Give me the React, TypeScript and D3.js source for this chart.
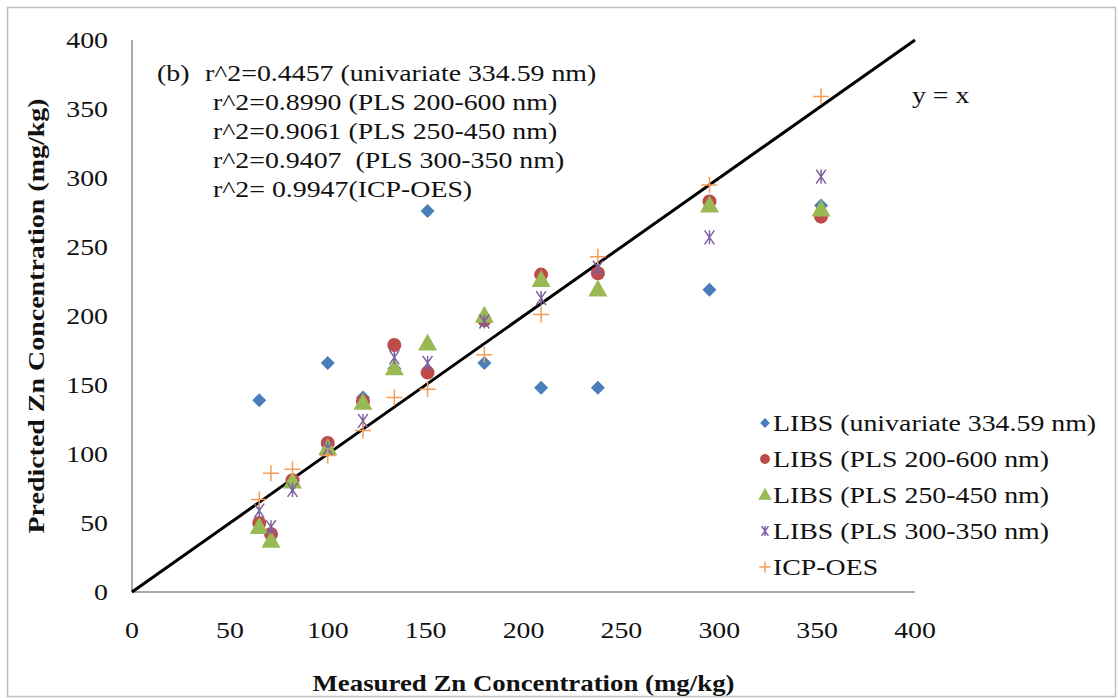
import React from "react";
import * as d3 from "d3";

// measured Zn concentration (mg/kg)
const measured = [65, 71, 82, 100, 118, 134, 151, 180, 209, 238, 295, 352];
// predicted values per method
const univariate = [139, 42, 78, 166, 141, 162, 276, 166, 148, 148, 219, 280];
const pls200600 = [50, 42, 81, 108, 138, 179, 159, 197, 230, 231, 283, 272];
const pls250450 = [47, 37, 80, 104, 137, 162, 180, 200, 226, 219, 280, 277];
const pls300350 = [59, 47, 74, 104, 124, 170, 166, 196, 213, 235, 257, 301];
const icpOes = [67, 86, 89, 99, 117, 141, 147, 172, 201, 243, 295, 359];

const seriesNames = [
  "LIBS (univariate 334.59 nm)",
  "LIBS (PLS 200-600 nm)",
  "LIBS (PLS 250-450 nm)",
  "LIBS (PLS 300-350 nm)",
  "ICP-OES",
];
const annotations = [
  "r^2=0.4457 (univariate 334.59 nm)",
  "r^2=0.8990 (PLS 200-600 nm)",
  "r^2=0.9061 (PLS 250-450 nm)",
  "r^2=0.9407  (PLS 300-350 nm)",
  "r^2= 0.9947(ICP-OES)",
];
const ticks = [0, 50, 100, 150, 200, 250, 300, 350, 400];

const colors = ["#4a7ebb", "#be4b48", "#98b954", "#7d60a0", "#f59d56"];
const shapes = ["diamond", "circle", "triangle", "star", "plus"];

const serif = "'Liberation Serif', 'Times New Roman', serif";

// the source chart's text is stretched horizontally
const T = ({ x, y, anchor = "start", sx = 1.16, size = 24, children, ...rest }) => (
  <g transform={`translate(${x},${y}) scale(${sx},1)`}>
    <text x={0} y={0} dy="0.35em" textAnchor={anchor} fontSize={size} fill="#111" style={{ whiteSpace: "pre" }} {...rest}>
      {children}
    </text>
  </g>
);

const Marker = ({ shape, color, x, y, s = 1 }) => {
  if (shape === "diamond") {
    const r = 7 * s;
    return <path d={`M${x},${y - r}L${x + r},${y}L${x},${y + r}L${x - r},${y}Z`} fill={color} />;
  }
  if (shape === "circle") return <circle cx={x} cy={y} r={7 * s} fill={color} />;
  if (shape === "triangle") {
    const w = 9.5 * s;
    const h = 17 * s;
    return (
      <path d={`M${x},${y - h * 0.6}L${x + w},${y + h * 0.4}L${x - w},${y + h * 0.4}Z`} fill={color} />
    );
  }
  if (shape === "star") {
    const r = 7 * s;
    return (
      <path
        d={`M${x - r * 0.7},${y - r}L${x + r * 0.7},${y + r}M${x + r * 0.7},${y - r}L${x - r * 0.7},${y + r}M${x},${y - r}L${x},${y + r}`}
        stroke={color}
        strokeWidth={1.5}
        fill="none"
      />
    );
  }
  const r = 8 * s;
  return (
    <path d={`M${x - r},${y}L${x + r},${y}M${x},${y - r}L${x},${y + r}`} stroke={color} strokeWidth={1.5} fill="none" />
  );
};

export default function App() {
  const W = 1119;
  const H = 698;
  const x = d3.scaleLinear().domain([0, 400]).range([132, 915]);
  const y = d3.scaleLinear().domain([0, 400]).range([592, 40]);
  const allSeries = [univariate, pls200600, pls250450, pls300350, icpOes];

  return (
    <svg
      width={W}
      height={H}
      style={{ position: "absolute", left: 0, top: 0, background: "#fff" }}
      fontFamily={serif}
    >
      <rect x={7.5} y={7.5} width={1108} height={689} fill="#fff" stroke="#bfbfbf" strokeWidth={1.5} />

      {/* axes */}
      <line x1={x(0)} x2={x(0)} y1={y(0)} y2={y(400)} stroke="#8c8c8c" strokeWidth={1.5} />
      <line x1={x(0)} x2={x(400)} y1={y(0)} y2={y(0)} stroke="#8c8c8c" strokeWidth={1.5} />

      {ticks.map((t) => (
        <T key={"y" + t} x={108} y={y(t)} anchor="end">
          {t}
        </T>
      ))}
      {ticks.map((t) => (
        <T key={"x" + t} x={x(t)} y={630} anchor="middle">
          {t}
        </T>
      ))}

      <text
        x={(x(0) + x(400)) / 2}
        y={683}
        dy="0.35em"
        textAnchor="middle"
        fontSize={24}
        fontWeight="bold"
        fill="#111"
        textLength={422}
        lengthAdjust="spacingAndGlyphs"
      >
        Measured Zn Concentration (mg/kg)
      </text>
      <text
        transform={`translate(36,${(y(0) + y(400)) / 2}) rotate(-90)`}
        dy="0.35em"
        textAnchor="middle"
        fontSize={24}
        fontWeight="bold"
        fill="#111"
        textLength={435}
        lengthAdjust="spacingAndGlyphs"
      >
        Predicted Zn Concentration (mg/kg)
      </text>

      {/* y = x reference line */}
      <line x1={x(0)} y1={y(0)} x2={x(400)} y2={y(400)} stroke="#000" strokeWidth={3} />
      <T x={912} y={95}>y = x</T>

      {/* points */}
      {allSeries.map((vals, si) => (
        <g key={si}>
          {vals.map((v, i) => (
            <Marker key={i} shape={shapes[si]} color={colors[si]} x={x(measured[i])} y={y(v)} />
          ))}
        </g>
      ))}

      {/* annotation */}
      <T x={157} y={73}>(b)</T>
      {annotations.map((a, i) => (
        <T key={i} x={i === 0 ? 205 : 213} y={73 + i * 29}>
          {a}
        </T>
      ))}

      {/* legend */}
      {seriesNames.map((n, i) => (
        <g key={n}>
          <Marker shape={shapes[i]} color={colors[i]} x={765} y={423 + i * 36} s={0.7} />
          <T x={773} y={423 + i * 36}>
            {n}
          </T>
        </g>
      ))}
    </svg>
  );
}
